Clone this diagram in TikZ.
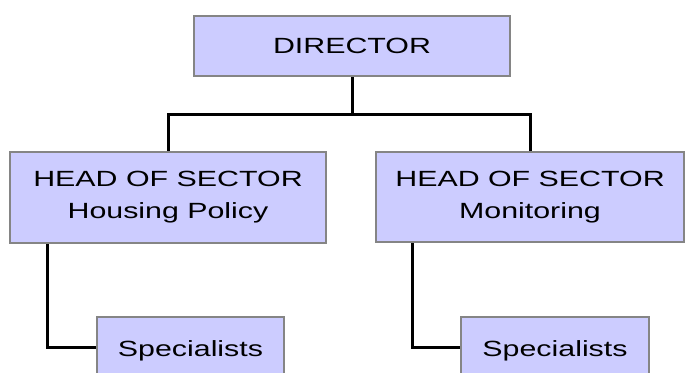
\documentclass[tikz,border=0pt]{standalone}
\usepackage{fontspec}
\setmainfont{Liberation Sans}[FakeStretch=1.38]
\definecolor{boxfill}{HTML}{CCCCFF}
\definecolor{boxline}{HTML}{858585}
\begin{document}
\begin{tikzpicture}[x=1pt,y=-1pt,
  orgbox/.style={draw=boxline, line width=2.5pt, fill=boxfill, inner sep=0pt,
    align=center, font=\fontsize{22}{32}\selectfont},
  link/.style={line width=3pt, black}]
\useasboundingbox (0,0) rectangle (685,372);
\node[orgbox, minimum width=316pt, minimum height=60pt, text height=14pt, text depth=0pt] (dir) at (352,46) {DIRECTOR};
\node[orgbox, minimum width=316pt, minimum height=91pt] (hl) at (168,197.5) {HEAD OF SECTOR\\Housing Policy};
\node[orgbox, minimum width=308pt, minimum height=90pt] (hr) at (530,197) {HEAD OF SECTOR\\Monitoring};
\node[orgbox, minimum width=187pt, minimum height=60pt, text height=18pt, text depth=0pt] (sl) at (190.5,347) {Specialists};
\node[orgbox, minimum width=188pt, minimum height=60pt, text height=18pt, text depth=0pt] (sr) at (555,347) {Specialists};
\coordinate (j) at (352,114);
\draw[link] (dir.south) -- (j);
\draw[link] (j) -| (hl.north);
\draw[link] (j) -| (hr.north);
\draw[link] ([xshift=39pt]hl.south west) |- (sl.west);
\draw[link] ([xshift=38pt]hr.south west) |- (sr.west);
\end{tikzpicture}
\end{document}
